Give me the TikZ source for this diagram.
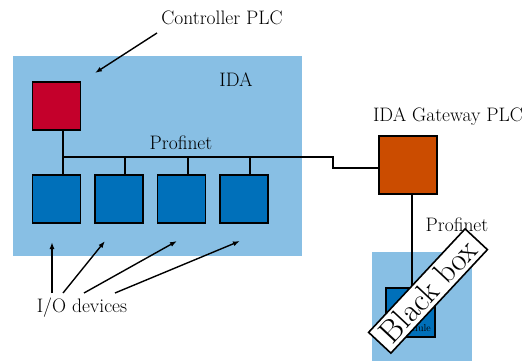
\documentclass[tikz,border=0pt]{standalone}
\usetikzlibrary{arrows.meta}
\definecolor{areablue}{HTML}{88BFE4}
\definecolor{devblue}{HTML}{0070BA}
\definecolor{plcred}{HTML}{C4002B}
\definecolor{gworange}{HTML}{CB4C00}
\begin{document}
\begin{tikzpicture}[x=1pt,y=-1pt,
  box/.style={draw=black,line width=1.8pt,minimum width=48pt,minimum height=48pt,inner sep=0pt},
  wire/.style={draw=black,line width=1.6pt},
  pointer/.style={draw=black,line width=1.4pt,-{Latex[length=7pt,width=5pt]}},
  lbl/.style={font=\fontsize{19.5}{22}\selectfont,inner sep=0pt}]
\useasboundingbox (0,0) rectangle (531,361);
% areas
\fill[areablue] (13,56) rectangle (302,256);
\fill[areablue] (372,252) rectangle (472,361);
% boxes
\node[box,fill=plcred] (plc) at (56.5,106) {};
\node[box,fill=devblue] (d1) at (56.5,199) {};
\node[box,fill=devblue] (d2) at (119,199) {};
\node[box,fill=devblue] (d3) at (181.5,199) {};
\node[box,fill=devblue] (d4) at (244,199) {};
\node[box,fill=gworange,minimum width=58pt,minimum height=58pt] (gw) at (408,165) {};
\node[box,fill=devblue,minimum width=49pt,minimum height=49pt] (sb) at (410.5,312.5) {};
\node[font=\fontsize{10}{11}\selectfont,anchor=east,inner sep=0pt] (sbt) at (431,328) {Module};
% labels
\node[lbl] (ctl) at (222,18) {Controller PLC};
\node[lbl] (ida) at (236,80) {IDA};
\node[lbl] (pn1) at (181,143) {Profinet};
\node[lbl] (gwl) at (448,117) {IDA Gateway PLC};
\node[lbl] (pn2) at (457,225) {Profinet};
\node[lbl] (io) at (82,308) {I/O devices};
% bus
\coordinate (bend1) at (333,157);
\coordinate (bend2) at (333,168);
\coordinate (busstart) at (63,157);
\draw[wire] ([xshift=6.5pt]plc.south) -- (busstart) -- (bend1) -- (bend2) -- ([yshift=-3pt]gw.west);
\draw[wire] ([xshift=6.5pt]d1.north) -- (busstart);
\draw[wire] ([xshift=6pt]d2.north) -- ([xshift=6pt]d2.north |- bend1);
\draw[wire] ([xshift=6.5pt]d3.north) -- ([xshift=6.5pt]d3.north |- bend1);
\draw[wire] ([xshift=6pt]d4.north) -- ([xshift=6pt]d4.north |- bend1);
\draw[wire] ([xshift=4pt]gw.south) -- ([xshift=1.5pt]sb.north);
% pointers
\coordinate (c1) at (157,33); \coordinate (c1e) at (95,73);
\draw[pointer] (c1) -- (c1e);
\coordinate (i1) at (52,293); \coordinate (i1e) at (52,242);
\coordinate (i2) at (63,293); \coordinate (i2e) at (105,241);
\coordinate (i3) at (84,293); \coordinate (i3e) at (177,241);
\coordinate (i4) at (115,293); \coordinate (i4e) at (240,241);
\draw[pointer] (i1) -- (i1e);
\draw[pointer] (i2) -- (i2e);
\draw[pointer] (i3) -- (i3e);
\draw[pointer] (i4) -- (i4e);
% black box banner
\node[draw=black,fill=white,line width=1.6pt,rotate=47,font=\fontsize{32}{34}\selectfont,inner xsep=7pt,inner ysep=4pt] (bb) at (428,291) {Black box};
\end{tikzpicture}
\end{document}
